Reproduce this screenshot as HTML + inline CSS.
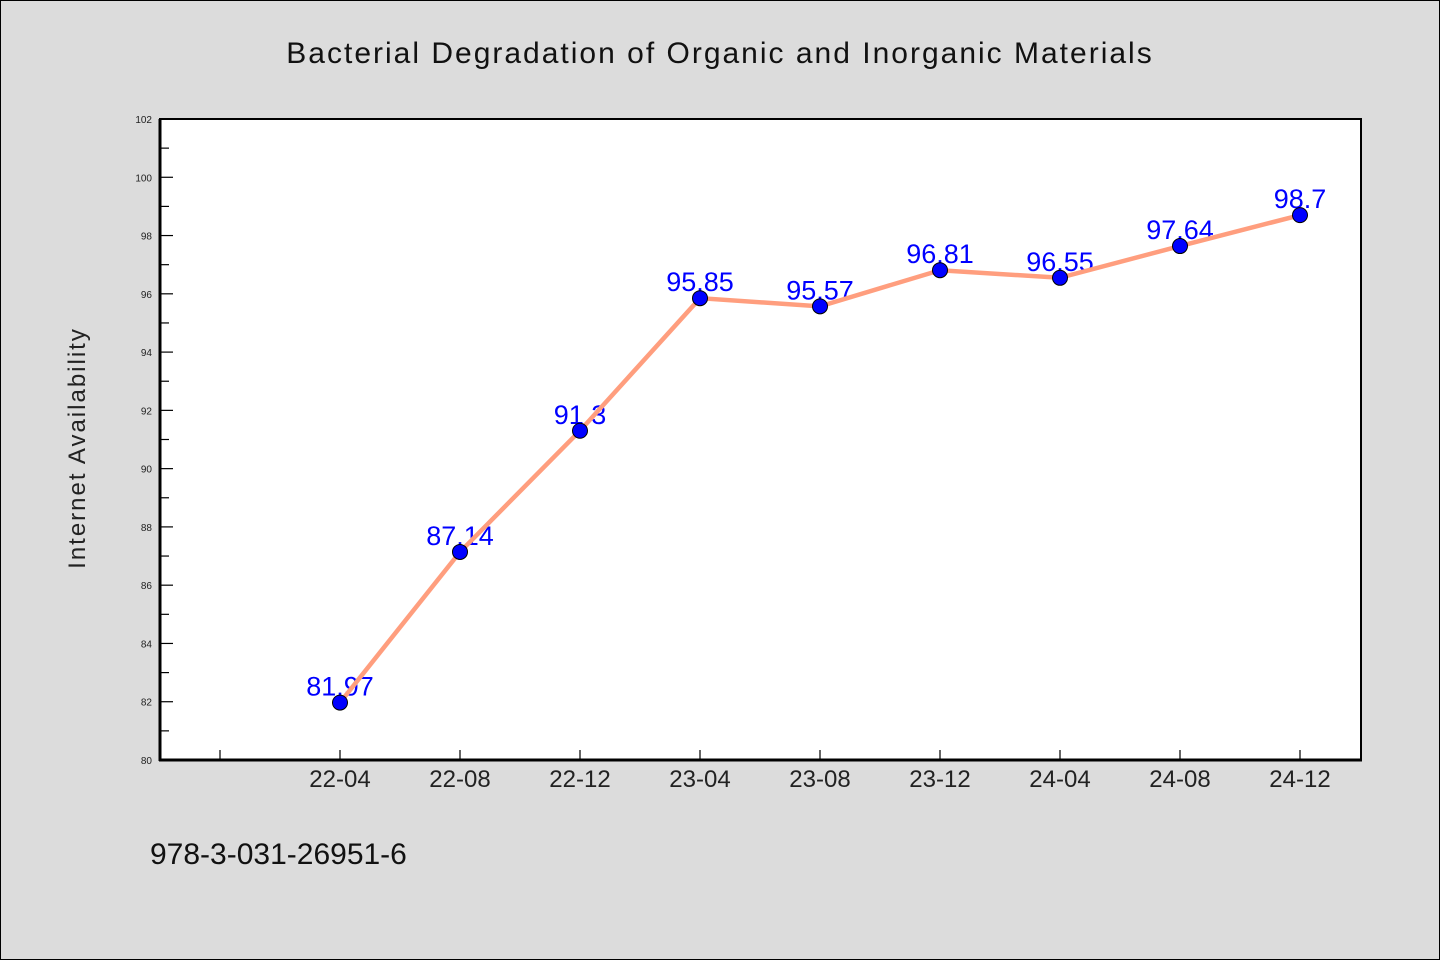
<!DOCTYPE html>
<html><head><meta charset="utf-8"><style>
html,body{margin:0;padding:0;background:#dcdcdc;}
svg{display:block;font-family:"WenQuanYi Zen Hei","Liberation Sans",sans-serif;}
</style></head><body>
<svg id="chart" width="1440" height="960">
<rect x="0.5" y="0.5" width="1439" height="959" fill="#dcdcdc" stroke="#000"/>
<text x="720" y="63" text-anchor="middle" font-size="30" letter-spacing="2" fill="#111">Bacterial Degradation of Organic and Inorganic Materials</text>
<rect x="160" y="119" width="1201" height="641" fill="#fff" stroke="#000" stroke-width="2"/>
<text transform="translate(85,448) rotate(-90)" text-anchor="middle" font-size="24" letter-spacing="2" fill="#222">Internet Availability</text>
<text x="150" y="864" font-size="30" fill="#111">978-3-031-26951-6</text>
<g id="axes"></g>
<g id="marks"></g>
</svg>
<script>
const categories=["22-04","22-08","22-12","23-04","23-08","23-12","24-04","24-08","24-12"];
const values=[81.97,87.14,91.3,95.85,95.57,96.81,96.55,97.64,98.7];
const labels=["81.97","87.14","91.3","95.85","95.57","96.81","96.55","97.64","98.7"];
const yTicks=[80,82,84,86,88,90,92,94,96,98,100,102];
const NS="http://www.w3.org/2000/svg";
const x0=160,x1=1361,y0=760,y1=119,yMin=80,yMax=102;
const xs=i=>340+i*120;
const ys=v=>y0-(v-yMin)/(yMax-yMin)*(y0-y1);
function mk(t,a,p){const e=document.createElementNS(NS,t);for(const k in a)e.setAttribute(k,a[k]);p.appendChild(e);return e;}
const ax=document.getElementById('axes'),mg=document.getElementById('marks');
yTicks.forEach((v,i)=>{
 const l=mk('line',{x1:x0,x2:x0+13,y1:ys(v),y2:ys(v),stroke:'#000','stroke-width':1.2},ax);
 
 
 const t=mk('text',{x:x0-8,y:ys(v)+4,'text-anchor':'end','font-size':10,fill:'#222'},ax);
 t.textContent=v;
 
 
 if(i<yTicks.length-1){
  const m=mk('line',{x1:x0,x2:x0+9,y1:ys(v+1),y2:ys(v+1),stroke:'#000','stroke-width':1.2},ax);
  
  
 }
});
const e0=mk('line',{x1:220,x2:220,y1:y0,y2:y0-10,stroke:'#000','stroke-width':1.2},ax);


categories.forEach((c,i)=>{
 const l=mk('line',{x1:xs(i),x2:xs(i),y1:y0,y2:y0-10,stroke:'#000','stroke-width':1.2},ax);
 
 
 const t=mk('text',{x:xs(i),y:y0+27,'text-anchor':'middle','font-size':24,fill:'#222'},ax);
 t.textContent=c;
 
 
});
const a1=mk('line',{x1:x0,x2:x0,y1:y1,y2:y0+1,stroke:'#000','stroke-width':3},ax);


const a2=mk('line',{x1:x0-1,x2:x1+1,y1:y0,y2:y0,stroke:'#000','stroke-width':3},ax);


values.forEach((v,i)=>{
 const t=mk('text',{x:xs(i),y:ys(v)-7,'text-anchor':'middle','font-size':27,fill:'#0000ff','font-family':'"Liberation Sans",sans-serif'},mg);
 t.textContent=labels[i];
 
 
});
const p=mk('polyline',{points:values.map((v,i)=>xs(i)+','+ys(v)).join(' '),fill:'none',stroke:'#ff9e7e','stroke-width':4.5},mg);


values.forEach((v,i)=>{
 const c=mk('circle',{cx:xs(i),cy:ys(v),r:7.5,fill:'#0000ff',stroke:'#000','stroke-width':1},mg);
 
 
});
</script>
</body></html>
